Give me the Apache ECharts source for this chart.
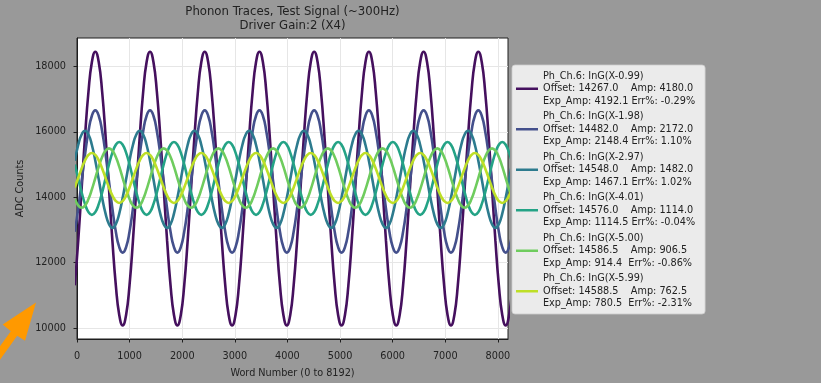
<!DOCTYPE html>
<html>
<head>
<meta charset="utf-8">
<script src="https://cdn.jsdelivr.net/npm/echarts/dist/echarts.min.js"></script>
<style>
  html, body { margin: 0; padding: 0; background: #999999; }
  #chart { width: 821px; height: 383px; }
</style>
</head>
<body>
<div id="chart"></div>
<script>
// word number of every sample point (same for all traces)
var words = [
  -42, 23, 88, 153, 218, 283, 348, 413, 478, 543, 608, 673, 738, 803, 868, 933,
  998, 1063, 1128, 1193, 1258, 1323, 1388, 1453, 1518, 1583, 1648, 1713, 1778, 1843, 1908, 1973,
  2038, 2103, 2168, 2233, 2298, 2363, 2428, 2493, 2558, 2623, 2688, 2753, 2818, 2883, 2948, 3013,
  3078, 3143, 3208, 3273, 3338, 3403, 3468, 3533, 3598, 3663, 3728, 3793, 3858, 3923, 3988, 4053,
  4118, 4183, 4248, 4313, 4378, 4443, 4508, 4573, 4638, 4703, 4768, 4833, 4898, 4963, 5028, 5093,
  5158, 5223, 5288, 5353, 5418, 5483, 5548, 5613, 5678, 5743, 5808, 5873, 5938, 6003, 6068, 6133,
  6198, 6263, 6328, 6393, 6458, 6523, 6588, 6653, 6718, 6783, 6848, 6913, 6978, 7043, 7108, 7173,
  7238, 7303, 7368, 7433, 7498, 7563, 7628, 7693, 7758, 7823, 7888, 7953, 8018, 8083, 8148, 8213,
  8278
];

// ADC counts, one array per trace
var ch1 = [
  11311, 12667, 14267, 15867, 17223, 18129, 18447, 18129, 17223, 15867, 14267, 12667, 11311, 10405, 10087, 10405,
  11311, 12667, 14267, 15867, 17223, 18129, 18447, 18129, 17223, 15867, 14267, 12667, 11311, 10405, 10087, 10405,
  11311, 12667, 14267, 15867, 17223, 18129, 18447, 18129, 17223, 15867, 14267, 12667, 11311, 10405, 10087, 10405,
  11311, 12667, 14267, 15867, 17223, 18129, 18447, 18129, 17223, 15867, 14267, 12667, 11311, 10405, 10087, 10405,
  11311, 12667, 14267, 15867, 17223, 18129, 18447, 18129, 17223, 15867, 14267, 12667, 11311, 10405, 10087, 10405,
  11311, 12667, 14267, 15867, 17223, 18129, 18447, 18129, 17223, 15867, 14267, 12667, 11311, 10405, 10087, 10405,
  11311, 12667, 14267, 15867, 17223, 18129, 18447, 18129, 17223, 15867, 14267, 12667, 11311, 10405, 10087, 10405,
  11311, 12667, 14267, 15867, 17223, 18129, 18447, 18129, 17223, 15867, 14267, 12667, 11311, 10405, 10087, 10405,
  11311
];
var ch2 = [
  12946, 13651, 14482, 15313, 16018, 16489, 16654, 16489, 16018, 15313, 14482, 13651, 12946, 12475, 12310, 12475,
  12946, 13651, 14482, 15313, 16018, 16489, 16654, 16489, 16018, 15313, 14482, 13651, 12946, 12475, 12310, 12475,
  12946, 13651, 14482, 15313, 16018, 16489, 16654, 16489, 16018, 15313, 14482, 13651, 12946, 12475, 12310, 12475,
  12946, 13651, 14482, 15313, 16018, 16489, 16654, 16489, 16018, 15313, 14482, 13651, 12946, 12475, 12310, 12475,
  12946, 13651, 14482, 15313, 16018, 16489, 16654, 16489, 16018, 15313, 14482, 13651, 12946, 12475, 12310, 12475,
  12946, 13651, 14482, 15313, 16018, 16489, 16654, 16489, 16018, 15313, 14482, 13651, 12946, 12475, 12310, 12475,
  12946, 13651, 14482, 15313, 16018, 16489, 16654, 16489, 16018, 15313, 14482, 13651, 12946, 12475, 12310, 12475,
  12946, 13651, 14482, 15313, 16018, 16489, 16654, 16489, 16018, 15313, 14482, 13651, 12946, 12475, 12310, 12475,
  12946
];
var ch3 = [
  15115, 15596, 15917, 16030, 15917, 15596, 15115, 14548, 13981, 13500, 13179, 13066, 13179, 13500, 13981, 14548,
  15115, 15596, 15917, 16030, 15917, 15596, 15115, 14548, 13981, 13500, 13179, 13066, 13179, 13500, 13981, 14548,
  15115, 15596, 15917, 16030, 15917, 15596, 15115, 14548, 13981, 13500, 13179, 13066, 13179, 13500, 13981, 14548,
  15115, 15596, 15917, 16030, 15917, 15596, 15115, 14548, 13981, 13500, 13179, 13066, 13179, 13500, 13981, 14548,
  15115, 15596, 15917, 16030, 15917, 15596, 15115, 14548, 13981, 13500, 13179, 13066, 13179, 13500, 13981, 14548,
  15115, 15596, 15917, 16030, 15917, 15596, 15115, 14548, 13981, 13500, 13179, 13066, 13179, 13500, 13981, 14548,
  15115, 15596, 15917, 16030, 15917, 15596, 15115, 14548, 13981, 13500, 13179, 13066, 13179, 13500, 13981, 14548,
  15115, 15596, 15917, 16030, 15917, 15596, 15115, 14548, 13981, 13500, 13179, 13066, 13179, 13500, 13981, 14548,
  15115
];
var ch4 = [
  15002, 14576, 14150, 13788, 13547, 13462, 13547, 13788, 14150, 14576, 15002, 15364, 15605, 15690, 15605, 15364,
  15002, 14576, 14150, 13788, 13547, 13462, 13547, 13788, 14150, 14576, 15002, 15364, 15605, 15690, 15605, 15364,
  15002, 14576, 14150, 13788, 13547, 13462, 13547, 13788, 14150, 14576, 15002, 15364, 15605, 15690, 15605, 15364,
  15002, 14576, 14150, 13788, 13547, 13462, 13547, 13788, 14150, 14576, 15002, 15364, 15605, 15690, 15605, 15364,
  15002, 14576, 14150, 13788, 13547, 13462, 13547, 13788, 14150, 14576, 15002, 15364, 15605, 15690, 15605, 15364,
  15002, 14576, 14150, 13788, 13547, 13462, 13547, 13788, 14150, 14576, 15002, 15364, 15605, 15690, 15605, 15364,
  15002, 14576, 14150, 13788, 13547, 13462, 13547, 13788, 14150, 14576, 15002, 15364, 15605, 15690, 15605, 15364,
  15002, 14576, 14150, 13788, 13547, 13462, 13547, 13788, 14150, 14576, 15002, 15364, 15605, 15690, 15605, 15364,
  15002
];
var ch5 = [
  13946, 13749, 13680, 13749, 13946, 14240, 14587, 14933, 15228, 15424, 15493, 15424, 15228, 14933, 14587, 14240,
  13946, 13749, 13680, 13749, 13946, 14240, 14587, 14933, 15228, 15424, 15493, 15424, 15228, 14933, 14587, 14240,
  13946, 13749, 13680, 13749, 13946, 14240, 14587, 14933, 15228, 15424, 15493, 15424, 15228, 14933, 14587, 14240,
  13946, 13749, 13680, 13749, 13946, 14240, 14587, 14933, 15228, 15424, 15493, 15424, 15228, 14933, 14587, 14240,
  13946, 13749, 13680, 13749, 13946, 14240, 14587, 14933, 15228, 15424, 15493, 15424, 15228, 14933, 14587, 14240,
  13946, 13749, 13680, 13749, 13946, 14240, 14587, 14933, 15228, 15424, 15493, 15424, 15228, 14933, 14587, 14240,
  13946, 13749, 13680, 13749, 13946, 14240, 14587, 14933, 15228, 15424, 15493, 15424, 15228, 14933, 14587, 14240,
  13946, 13749, 13680, 13749, 13946, 14240, 14587, 14933, 15228, 15424, 15493, 15424, 15228, 14933, 14587, 14240,
  13946
];
var ch6 = [
  14297, 14589, 14880, 15128, 15293, 15351, 15293, 15128, 14880, 14589, 14297, 14049, 13884, 13826, 13884, 14049,
  14297, 14589, 14880, 15128, 15293, 15351, 15293, 15128, 14880, 14589, 14297, 14049, 13884, 13826, 13884, 14049,
  14297, 14589, 14880, 15128, 15293, 15351, 15293, 15128, 14880, 14589, 14297, 14049, 13884, 13826, 13884, 14049,
  14297, 14589, 14880, 15128, 15293, 15351, 15293, 15128, 14880, 14589, 14297, 14049, 13884, 13826, 13884, 14049,
  14297, 14589, 14880, 15128, 15293, 15351, 15293, 15128, 14880, 14589, 14297, 14049, 13884, 13826, 13884, 14049,
  14297, 14589, 14880, 15128, 15293, 15351, 15293, 15128, 14880, 14589, 14297, 14049, 13884, 13826, 13884, 14049,
  14297, 14589, 14880, 15128, 15293, 15351, 15293, 15128, 14880, 14589, 14297, 14049, 13884, 13826, 13884, 14049,
  14297, 14589, 14880, 15128, 15293, 15351, 15293, 15128, 14880, 14589, 14297, 14049, 13884, 13826, 13884, 14049,
  14297
];

// legend texts
var traceNames = ['Ph_Ch.6: InG(X-0.99)', 'Ph_Ch.6: InG(X-1.98)', 'Ph_Ch.6: InG(X-2.97)',
                  'Ph_Ch.6: InG(X-4.01)', 'Ph_Ch.6: InG(X-5.00)', 'Ph_Ch.6: InG(X-5.99)'];
var offsets = [14267.0, 14482.0, 14548.0, 14576.0, 14586.5, 14588.5];
var amps    = [4180.0, 2172.0, 1482.0, 1114.0, 906.5, 762.5];
var expAmps = [4192.1, 2148.4, 1467.1, 1114.5, 914.4, 780.5];
var errPct  = [-0.29, 1.10, 1.02, -0.04, -0.86, -2.31];

var xTicks = [0, 1000, 2000, 3000, 4000, 5000, 6000, 7000, 8000];
var yTicks = [10000, 12000, 14000, 16000, 18000];

var colors = ['#45105e', '#44508c', '#2d7b8e', '#24a386', '#6fcc5e', '#bedf27'];
var traces = [ch1, ch2, ch3, ch4, ch5, ch6];
var FONT = 'DejaVu Sans';

var myChart = echarts.init(document.getElementById('chart'));

var series = traces.map(function (vals, k) {
    return {
        name: traceNames[k],
        type: 'line',
        data: words.map(function (w, i) { return [w, vals[i]]; }),
        showSymbol: false,
        smooth: true,
        clip: true,
        z: 3 + k,
        color: colors[k],
        lineStyle: { width: 2.6, color: colors[k] }
    };
});

function plain(v) { return String(v); }

myChart.setOption({
    animation: false,
    backgroundColor: '#999999',
    textStyle: { fontFamily: FONT },
    grid: {
        left: 77, top: 38, width: 431, height: 301,
        show: true, backgroundColor: '#ffffff',
        borderColor: '#1e1e1e', borderWidth: 1,
        containLabel: false, outerBoundsMode: 'none'
    },
    xAxis: {
        type: 'value',
        min: 0, max: 8192, interval: 1000,
        axisLine: { show: true, lineStyle: { color: '#1e1e1e' } },
        axisTick: { show: true, inside: false, length: 3.5, lineStyle: { color: '#1e1e1e' }, customValues: xTicks },
        axisLabel: { color: '#222', fontSize: 9.7, fontFamily: FONT, margin: 12, customValues: xTicks, formatter: plain },
        splitLine: { show: true, lineStyle: { color: '#e6e6e6', width: 1 } }
    },
    yAxis: {
        type: 'value',
        min: 9670, max: 18865, splitNumber: 5,
        axisLine: { show: true, lineStyle: { color: '#1e1e1e' } },
        axisTick: { show: true, inside: false, length: 3.5, lineStyle: { color: '#1e1e1e' }, customValues: yTicks },
        axisLabel: { color: '#222', fontSize: 9.7, fontFamily: FONT, margin: 11, customValues: yTicks, formatter: plain },
        splitLine: { show: true, lineStyle: { color: '#e6e6e6', width: 1 } }
    },
    legend: {
        orient: 'vertical',
        left: 512, top: 65,
        padding: [5, 10, 4, 4],
        itemGap: 3,
        itemWidth: 22, itemHeight: 2.5,
        icon: 'rect',
        selectedMode: false,
        backgroundColor: 'rgba(255,255,255,0.8)',
        borderColor: 'rgba(204,204,204,0.8)',
        borderWidth: 1,
        borderRadius: 3,
        data: traceNames,
        textStyle: { color: '#222', fontSize: 9.7, fontFamily: FONT, lineHeight: 12.5 },
        formatter: function (name) {
            var k = traceNames.indexOf(name);
            var e = expAmps[k].toFixed(1);
            return name + '\n' +
                'Offset: ' + offsets[k].toFixed(1) + '    Amp: ' + amps[k].toFixed(1) + '\n' +
                'Exp_Amp: ' + e + (e.length < 6 ? '  ' : ' ') + 'Err%: ' + errPct[k].toFixed(2) + '%';
        }
    },
    graphic: [
        {
            type: 'text', x: 292.5, y: 18.7,
            style: {
                text: 'Phonon Traces, Test Signal (~300Hz)\nDriver Gain:2 (X4)',
                align: 'center', verticalAlign: 'middle',
                font: '11.7px "DejaVu Sans"', lineHeight: 14, fill: '#222'
            }
        },
        {
            type: 'text', x: 292.5, y: 373,
            style: {
                text: 'Word Number (0 to 8192)',
                align: 'center', verticalAlign: 'middle',
                font: '9.7px "DejaVu Sans"', fill: '#222'
            }
        },
        {
            type: 'text', x: 20, y: 188.5, rotation: Math.PI / 2,
            style: {
                text: 'ADC Counts',
                align: 'center', verticalAlign: 'middle',
                font: '9.7px "DejaVu Sans"', fill: '#222'
            }
        },
        {
            // orange arrow pointing at the lower left corner of the plot
            type: 'polygon',
            shape: {
                points: [[36, 302.5], [2.7, 324.5], [10.8, 331.2], [-15.5, 367.7],
                         [-9.1, 372.3], [17.2, 335.8], [25, 340.8]]
            },
            style: { fill: '#ff9900' }
        }
    ],
    series: series
});
</script>
</body>
</html>
